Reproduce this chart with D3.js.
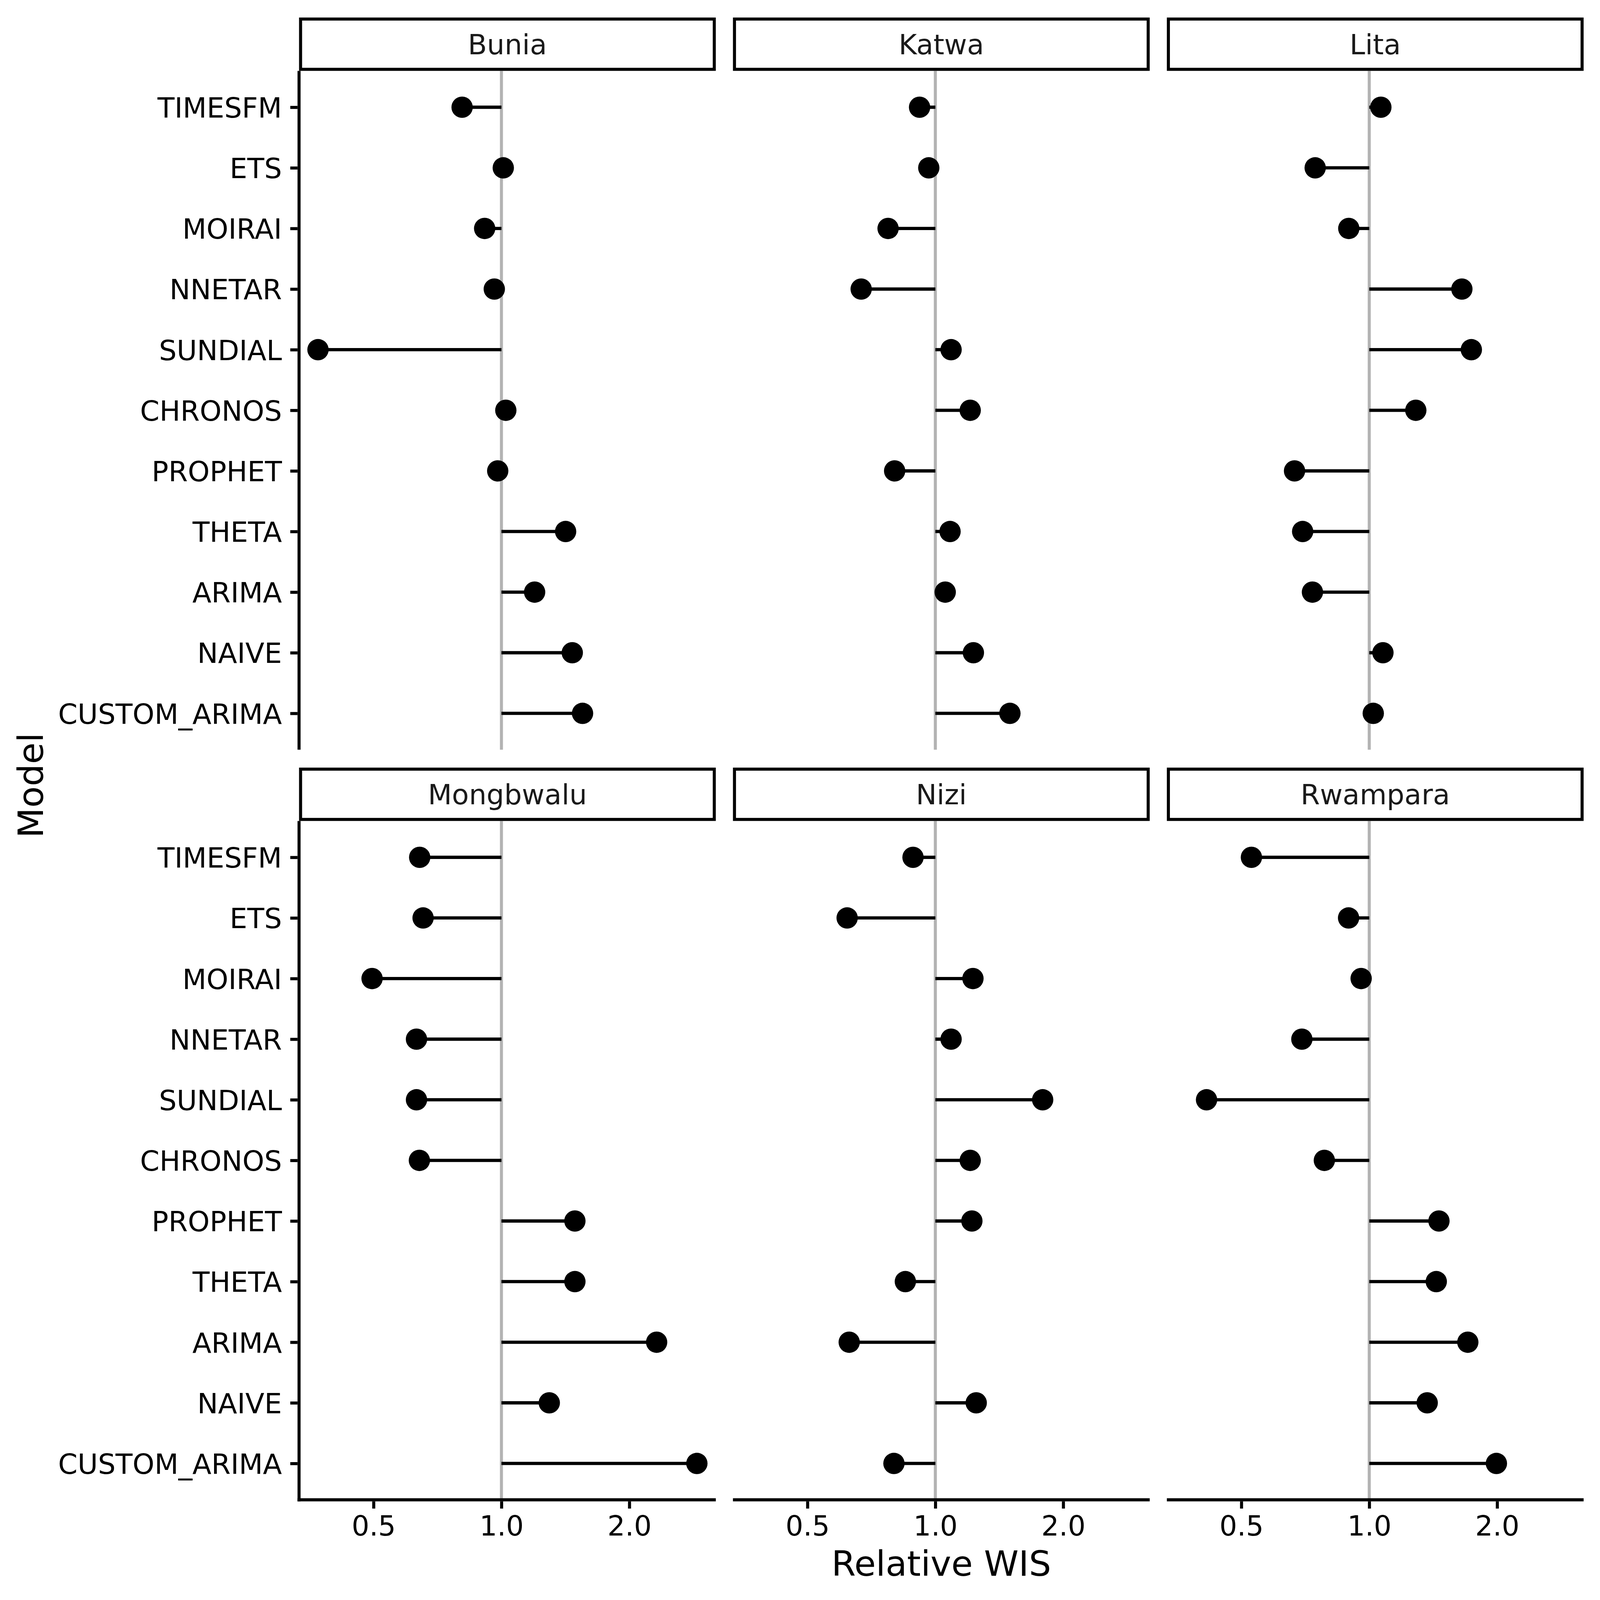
<!DOCTYPE html>
<html>
<head>
<meta charset="utf-8">
<script src="https://cdn.jsdelivr.net/npm/d3@7"></script>
<style>
  html, body { margin: 0; padding: 0; background: #ffffff; overflow: hidden; width: 100%; height: 100%; }
  svg { display: block; position: absolute; left: 0; top: 0; width: 100vw; height: 100vh; }
</style>
</head>
<body>
<script>
// ---------------- DATA ----------------
const models = ["TIMESFM", "ETS", "MOIRAI", "NNETAR", "SUNDIAL", "CHRONOS",
                "PROPHET", "THETA", "ARIMA", "NAIVE", "CUSTOM_ARIMA"];
const locations = ["Bunia", "Katwa", "Lita", "Mongbwalu", "Nizi", "Rwampara"];

const wisBunia     = [0.808, 1.010, 0.913, 0.962, 0.370, 1.024, 0.980, 1.416, 1.197, 1.468, 1.552];
const wisKatwa     = [0.918, 0.965, 0.774, 0.669, 1.089, 1.208, 0.802, 1.083, 1.055, 1.229, 1.498];
const wisLita      = [1.065, 0.746, 0.895, 1.652, 1.739, 1.287, 0.667, 0.697, 0.735, 1.077, 1.022];
const wisMongbwalu = [0.642, 0.654, 0.496, 0.631, 0.631, 0.641, 1.489, 1.489, 2.319, 1.296, 2.884];
const wisNizi      = [0.886, 0.620, 1.226, 1.089, 1.789, 1.208, 1.219, 0.850, 0.627, 1.248, 0.799];
const wisRwampara  = [0.528, 0.894, 0.957, 0.694, 0.414, 0.784, 1.459, 1.438, 1.706, 1.369, 1.992];

const xTicks = [0.5, 1, 2];
const xTickLabels = ["0.5", "1.0", "2.0"];
const referenceValue = 1;
const xTitle = "Relative WIS";
const yTitle = "Model";

// ---------------- LAYOUT ----------------
const W = 4200, H = 4200;
const font = "DejaVu Sans, Liberation Sans, sans-serif";
const panelW = 1094, panelH = 1782;
const colX = [785, 1924, 3063];
const rowY = [186, 2155];
const stripH = 140;
const lw = 8;
const pointR = 28;
const tickLen = 19;
const axisFont = 73, titleFont = 92;

const seriesByLoc = {
  Bunia: wisBunia, Katwa: wisKatwa, Lita: wisLita,
  Mongbwalu: wisMongbwalu, Nizi: wisNizi, Rwampara: wisRwampara
};

// x domain: data extent in log space with 5% expansion
const allVals = [].concat(wisBunia, wisKatwa, wisLita, wisMongbwalu, wisNizi, wisRwampara);
const lmin = Math.log2(d3.min(allVals)), lmax = Math.log2(d3.max(allVals));
const pad = (lmax - lmin) * 0.05;
const xDomain = [Math.pow(2, lmin - pad), Math.pow(2, lmax + pad)];

const svg = d3.select("body").append("svg")
  .attr("viewBox", `0 0 ${W} ${H}`)
  .attr("preserveAspectRatio", "none");
svg.append("rect").attr("width", W).attr("height", H).attr("fill", "#ffffff");

locations.forEach((loc, i) => {
  const col = i % 3, row = Math.floor(i / 3);
  const x0 = colX[col], y0 = rowY[row];
  const vals = seriesByLoc[loc];
  const data = models.map((m, k) => ({ model: m, value: vals[k] }));

  const x = d3.scaleLog().base(2).domain(xDomain).range([0, panelW]);
  const y = d3.scalePoint().domain(models).range([0, panelH]).padding(0.6);

  const g = svg.append("g").attr("transform", `translate(${x0},${y0})`);

  // strip
  const sg = svg.append("g").attr("transform", `translate(${x0},${y0 - stripH})`);
  sg.append("rect")
    .attr("x", lw / 2).attr("y", lw / 2)
    .attr("width", panelW - lw).attr("height", stripH - lw)
    .attr("fill", "#ffffff").attr("stroke", "#000000").attr("stroke-width", lw);
  sg.append("text")
    .attr("x", panelW / 2).attr("y", stripH / 2)
    .attr("dy", "0.365em")
    .attr("text-anchor", "middle")
    .attr("font-family", font).attr("font-size", axisFont)
    .attr("fill", "#1A1A1A")
    .text(loc);

  // reference line
  g.append("line")
    .attr("x1", x(referenceValue)).attr("x2", x(referenceValue))
    .attr("y1", 0).attr("y2", panelH)
    .attr("stroke", "#B3B3B3").attr("stroke-width", lw);

  // segments
  g.selectAll("line.seg").data(data).join("line")
    .attr("class", "seg")
    .attr("x1", x(referenceValue)).attr("x2", d => x(d.value))
    .attr("y1", d => y(d.model)).attr("y2", d => y(d.model))
    .attr("stroke", "#000000").attr("stroke-width", lw + 0.5);

  // points
  g.selectAll("circle").data(data).join("circle")
    .attr("cx", d => x(d.value)).attr("cy", d => y(d.model))
    .attr("r", pointR).attr("fill", "#000000");

  // y axis (left column only)
  if (col === 0) {
    const ya = d3.axisLeft(y).tickSize(tickLen).tickPadding(22);
    const yg = g.append("g").call(ya);
    yg.select(".domain").remove();
    yg.selectAll(".tick line").attr("stroke", "#000").attr("stroke-width", lw)
      .attr("x1", -lw / 2).attr("x2", -lw / 2 - tickLen);
    yg.selectAll(".tick text")
      .attr("x", -lw / 2 - tickLen - 22)
      .attr("font-family", font).attr("font-size", axisFont)
      .attr("fill", "#000").attr("dy", "0.365em");
    g.append("line")
      .attr("x1", 0).attr("x2", 0)
      .attr("y1", 0).attr("y2", row === 1 ? panelH + lw / 2 : panelH)
      .attr("stroke", "#000").attr("stroke-width", lw);
  }

  // x axis (bottom row only)
  if (row === 1) {
    const xa = d3.axisBottom(x).tickValues(xTicks)
      .tickFormat((d, k) => xTickLabels[k]).tickSize(tickLen).tickPadding(18);
    const xg = g.append("g").attr("transform", `translate(0,${panelH})`).call(xa);
    xg.select(".domain").remove();
    xg.selectAll(".tick line").attr("stroke", "#000").attr("stroke-width", lw)
      .attr("y1", lw / 2).attr("y2", lw / 2 + tickLen);
    xg.selectAll(".tick text")
      .attr("y", lw / 2 + tickLen + 18)
      .attr("dy", "0.73em")
      .attr("font-family", font).attr("font-size", axisFont)
      .attr("fill", "#000");
    g.append("line")
      .attr("x1", col === 0 ? -lw / 2 : 0).attr("x2", panelW)
      .attr("y1", panelH).attr("y2", panelH)
      .attr("stroke", "#000").attr("stroke-width", lw);
  }
});

// axis titles
svg.append("text")
  .attr("x", (colX[0] + colX[2] + panelW) / 2).attr("y", 4136)
  .attr("text-anchor", "middle")
  .attr("font-family", font).attr("font-size", titleFont).attr("fill", "#000")
  .text(xTitle);

svg.append("text")
  .attr("transform", `translate(113,${(rowY[0] + rowY[1] + panelH) / 2}) rotate(-90)`)
  .attr("text-anchor", "middle")
  .attr("font-family", font).attr("font-size", titleFont).attr("fill", "#000")
  .text(yTitle);
</script>
</body>
</html>
